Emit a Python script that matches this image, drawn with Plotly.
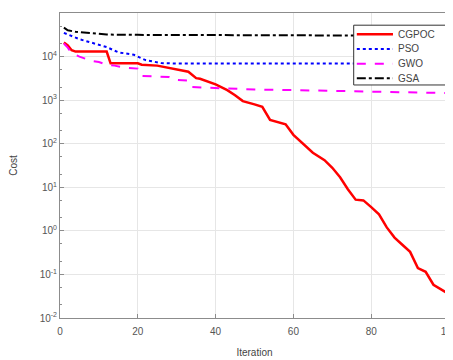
import plotly.graph_objects as go

# ---- data ----
cgpoc_x = [1, 2, 3, 4, 12, 13, 20, 21, 25, 28, 33, 35, 36, 40, 43, 45, 47, 50, 52, 54,
           58, 60, 62, 65, 68, 70, 72, 74, 76, 78, 80, 82, 84, 86, 88, 90, 92, 94, 96, 98, 100]
cgpoc_y = [2.1e4, 1.8e4, 1.4e4, 1.3e4, 1.3e4, 7e3, 7e3, 6.5e3, 6.2e3, 5.5e3, 4.5e3, 3.2e3,
           3.1e3, 2.3e3, 1.7e3, 1.3e3, 9.5e2, 8e2, 7e2, 3.5e2, 2.8e2, 1.6e2, 1.1e2, 6.2e1,
           4.2e1, 2.8e1, 1.7e1, 9.0, 5.2, 5.0, 3.5, 2.4, 1.2, 0.7, 0.48, 0.33, 0.14, 0.115,
           0.058, 0.045, 0.035]

pso_x = [1, 2, 5, 8, 12, 15, 19, 22, 26, 30, 60, 96, 97, 100]
pso_y = [3.5e4, 3.2e4, 2.5e4, 2.1e4, 1.65e4, 1.25e4, 1.1e4, 8.3e3, 7.1e3, 6.9e3, 6.9e3,
         6.9e3, 6.0e3, 5.8e3]

gwo_x = [1, 2, 3, 5, 8, 10, 12, 14, 17, 20, 21, 28, 30, 33, 34, 40, 50, 60, 70, 80, 90, 100]
gwo_y = [2.0e4, 1.6e4, 1.2e4, 1.0e4, 8e3, 7.5e3, 6.5e3, 6.2e3, 5.5e3, 5.3e3, 3.6e3, 3.4e3,
         2.9e3, 2.8e3, 2.0e3, 1.9e3, 1.75e3, 1.7e3, 1.65e3, 1.6e3, 1.5e3, 1.45e3]

gsa_x = [1, 2, 4, 8, 12, 20, 100]
gsa_y = [4.6e4, 4.0e4, 3.7e4, 3.4e4, 3.2e4, 3.15e4, 3.0e4]

x_ticks = [0, 20, 40, 60, 80, 100]
y_ticks = [1e-2, 1e-1, 1e0, 1e1, 1e2, 1e3, 1e4, 1e5]
y_ticktext = ["10<sup>-2</sup>", "10<sup>-1</sup>", "10<sup>0</sup>", "10<sup>1</sup>",
              "10<sup>2</sup>", "10<sup>3</sup>", "10<sup>4</sup>", "10<sup>5</sup>"]

names = ["CGPOC", "PSO", "GWO", "GSA"]
colors = ["#ff0000", "#0000ff", "#ff00ff", "#000000"]
dashes = ["solid", "dot", "dash", "dashdot"]
widths = [2.5, 2, 2, 2]
series = [(cgpoc_x, cgpoc_y), (pso_x, pso_y), (gwo_x, gwo_y), (gsa_x, gsa_y)]

fig = go.Figure()
for (sx, sy), n, c, d, w in zip(series, names, colors, dashes, widths):
    fig.add_trace(go.Scatter(x=sx, y=sy, mode="lines", name=n,
                             line=dict(color=c, width=w, dash=d)))

axis_common = dict(showline=True, linecolor="#8c8c8c", linewidth=1, mirror=True,
                   showgrid=True, gridcolor="#e6e6e6", gridwidth=1,
                   ticks="inside", ticklen=4, tickcolor="#8c8c8c",
                   tickfont=dict(family="Liberation Sans, Arial", size=10, color="#555555"),
                   zeroline=False, automargin=False)

# custom legend (box, sample lines, labels) in paper coordinates
shapes = [dict(type="rect", xref="paper", yref="paper", x0=0.755, x1=0.997,
               y0=0.764, y1=0.960, line=dict(color="#333333", width=1),
               fillcolor="white", layer="above")]
annotations = []
leg_y = [0.930, 0.882, 0.834, 0.786]
for ly, n, c, d, w in zip(leg_y, names, colors, dashes, widths):
    shapes.append(dict(type="line", xref="paper", yref="paper", x0=0.763, x1=0.856,
                       y0=ly, y1=ly, line=dict(color=c, width=w, dash=d), layer="above"))
    annotations.append(dict(xref="paper", yref="paper", x=0.863, y=ly, text=n,
                            showarrow=False, xanchor="left", yanchor="middle",
                            font=dict(family="Liberation Sans, Arial", size=10,
                                      color="#444444")))

fig.update_layout(
    width=453, height=360,
    margin=dict(l=52, r=12, t=5, b=50),
    paper_bgcolor="white", plot_bgcolor="white",
    font=dict(family="Liberation Sans, Arial", size=10, color="#444444"),
    xaxis=dict(range=[0, 100], tickvals=x_ticks, ticklabeloverflow="allow",
               ticklabelstandoff=4,
               title=dict(text="Iteration", standoff=12,
                          font=dict(size=10, color="#444444")),
               **axis_common),
    yaxis=dict(type="log", range=[-2, 5], tickvals=y_ticks, ticktext=y_ticktext,
               minor=dict(ticks="inside", ticklen=2, tickcolor="#8c8c8c", showgrid=False),
               title=dict(text="Cost", standoff=22,
                          font=dict(size=10, color="#444444")),
               **axis_common),
    showlegend=False,
    shapes=shapes,
    annotations=annotations,
)

fig.write_html("out.html")
